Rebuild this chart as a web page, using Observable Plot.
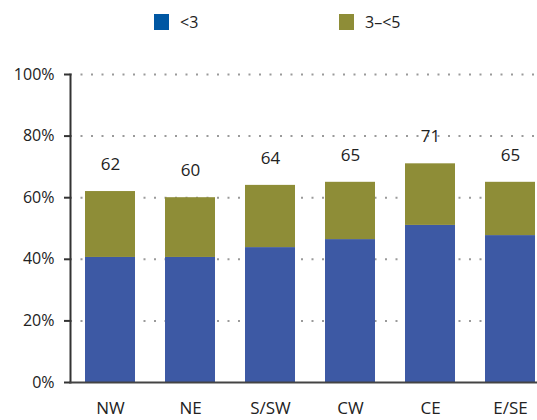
<!DOCTYPE html>
<html><head><meta charset="utf-8">
<script src="https://cdn.jsdelivr.net/npm/d3@7"></script>
<script src="https://cdn.jsdelivr.net/npm/@observablehq/plot@0.6"></script>
<style>
body{margin:0;background:#fff;font-family:"Open Sans",sans-serif;overflow:hidden}
#wrap{width:537px;height:420px;overflow:hidden;position:relative}
#legend{height:45px;position:relative;font-size:16px;color:#222}
.item{position:absolute;top:14px;height:16px;display:flex;align-items:center}
.sw{width:15px;height:16px;margin-right:11px}
#chart svg{display:block;overflow:hidden}
#chart svg text{fill:#222}
</style></head><body>
<div id="wrap"><div id="legend"></div><div id="chart"></div></div>
<script>
const regions = ["NW", "NE", "S/SW", "CW", "CE", "E/SE"];
const under3 = [40.6, 40.6, 43.8, 46.4, 51.0, 47.7];
const from3to5 = [21.4, 19.4, 20.2, 18.6, 20.0, 17.3];
const totals = [62, 60, 64, 65, 71, 65];
const seriesNames = ["<3", "3\u2013<5"];
const barColors = ["#3D59A4", "#8E8D37"];
const legendColors = ["#0057A3", "#8E8D37"];
const yTicks = [0, 0.2, 0.4, 0.6, 0.8, 1];
const gridTicks = [0.2, 0.4, 0.6, 0.8, 1];

// legend
const legend = document.getElementById("legend");
const legendX = [154, 339];
seriesNames.forEach((name, i) => {
  const it = document.createElement("div");
  it.className = "item";
  it.style.left = legendX[i] + "px";
  it.innerHTML = `<div class="sw" style="background:${legendColors[i]}"></div><span></span>`;
  it.querySelector("span").textContent = name;
  legend.appendChild(it);
});

const rows = [];
regions.forEach((r, i) => {
  rows.push({region: r, series: seriesNames[0], value: under3[i] / 100});
  rows.push({region: r, series: seriesNames[1], value: from3to5[i] / 100});
});
const totalRows = regions.map((r, i) => ({region: r, total: totals[i]}));

const chart = Plot.plot({
  width: 537,
  height: 375,
  marginTop: 29,
  marginBottom: 38,
  marginLeft: 70,
  marginRight: 0,
  style: {fontFamily: "Open Sans, sans-serif", fontSize: "16px", color: "#222", background: "#fff"},
  x: {domain: regions, range: [70, 550], paddingInner: 0.375, paddingOuter: 0.1875, label: null},
  y: {domain: [0, 1], label: null},
  color: {domain: seriesNames, range: barColors},
  marks: [
    Plot.gridY(gridTicks, {stroke: "#9a9a9a", strokeOpacity: 1, strokeWidth: 2, strokeDasharray: "2,8.5"}),
    Plot.barY(rows, Plot.stackY({x: "region", y: "value", fill: "series"})),
    Plot.text(totalRows, {x: "region", y: d => d.total / 100, text: d => String(d.total), dy: -27, fontSize: 17, fill: "#222"}),
    Plot.axisY(yTicks, {tickFormat: d3.format(".0%"), tickSize: 6, tickPadding: 10, fontSize: 16, stroke: "#333", strokeWidth: 2, label: null}),
    Plot.axisX({tickSize: 0, tickPadding: 19, fontSize: 17, label: null}),
    Plot.frame({anchor: "left", stroke: "#333", strokeWidth: 2}),
    Plot.frame({anchor: "bottom", stroke: "#444", strokeWidth: 2})
  ]
});
document.getElementById("chart").appendChild(chart);
</script>
</body></html>
